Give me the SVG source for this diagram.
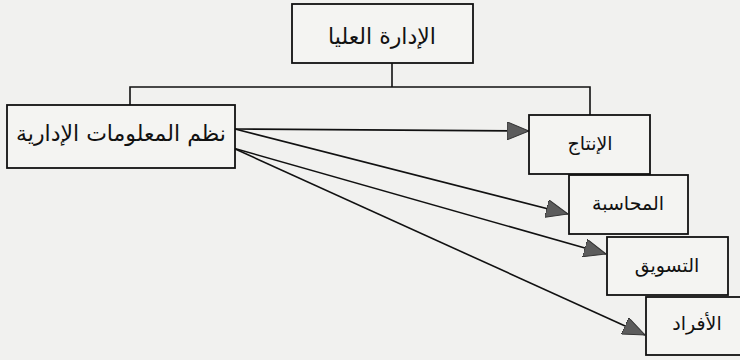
<svg xmlns="http://www.w3.org/2000/svg" width="740" height="360" viewBox="0 0 740 360">
  <style>
    .box { fill: #f4f4f2; stroke: #111; stroke-width: 1.8; }
    .lbl { font-family: "DejaVu Sans", "Noto Sans", sans-serif; fill: #111; text-anchor: middle; dominant-baseline: central; }
    .big { font-size: 22px; }
    .small { font-size: 19px; }
    .wire { fill: none; stroke: #111; stroke-width: 1.6; }
    .arrow { fill: none; stroke: #111; stroke-width: 1.6; marker-end: url(#tri); }
  </style>
  <defs>
    <marker id="tri" viewBox="0 0 22 18" refX="22" refY="9" markerWidth="22" markerHeight="18" markerUnits="userSpaceOnUse" orient="auto">
      <path d="M0,0 L22,9 L0,18 Z" fill="#5c5c5c" stroke="#333" stroke-width="1"/>
    </marker>
  </defs>

  <rect x="0" y="0" width="740" height="360" fill="#f1f1ef"/>

  <!-- connectors -->
  <g id="connectors">
    <path class="wire" d="M392,63 V87"/>
    <path class="wire" d="M130,105 V87 H590 V115"/>
    <line class="arrow" x1="235" y1="129" x2="529" y2="131"/>
    <line class="arrow" x1="235" y1="129" x2="568" y2="214"/>
    <line class="arrow" x1="233" y1="148" x2="606" y2="254"/>
    <line class="arrow" x1="233" y1="148" x2="645" y2="335"/>
  </g>

  <!-- nodes -->
  <g id="top-management">
    <rect class="box" x="292" y="4" width="181" height="59"/>
    <text class="lbl big" x="382" y="36">الإدارة العليا</text>
  </g>

  <g id="mis">
    <rect class="box" x="7" y="105" width="228" height="63"/>
    <text class="lbl big" x="121" y="133">نظم المعلومات الإدارية</text>
  </g>

  <g id="production">
    <rect class="box" x="529" y="115" width="121" height="59"/>
    <text class="lbl small" x="590" y="143">الإنتاج</text>
  </g>

  <g id="accounting">
    <rect class="box" x="569" y="175" width="119" height="59"/>
    <text class="lbl small" x="628" y="203">المحاسبة</text>
  </g>

  <g id="marketing">
    <rect class="box" x="607" y="237" width="121" height="58"/>
    <text class="lbl small" x="667" y="265">التسويق</text>
  </g>

  <g id="personnel">
    <rect class="box" x="646" y="297" width="120" height="58"/>
    <text class="lbl small" x="697" y="323">الأفراد</text>
  </g>
</svg>
